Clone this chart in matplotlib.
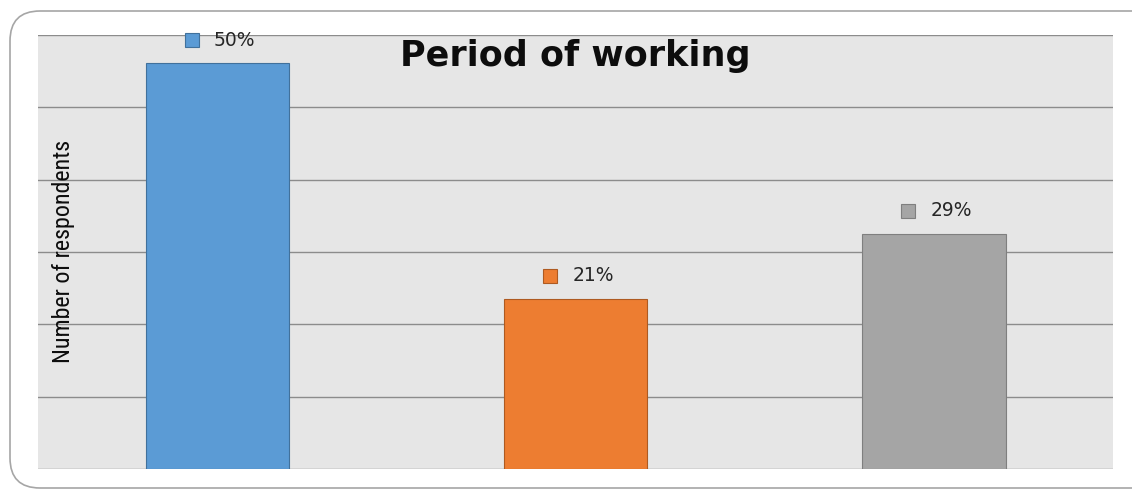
import matplotlib
matplotlib.use('Agg')

import matplotlib.pyplot as plt
from matplotlib.patches import FancyBboxPatch
from matplotlib.transforms import offset_copy
from matplotlib import font_manager
import numpy as np

# share of respondents per working period
values = [50, 21, 29]
labels = ['50%', '21%', '29%']
colors = ['#5b9bd5', '#ed7d31', '#a5a5a5']
edges = ['#41719c', '#ae5a21', '#7f7f7f']

ymax = 53.5

# pick a narrow face for the axis label if one is around
names = {f.name for f in font_manager.fontManager.ttflist}
narrow = [n for n in ['Liberation Sans Narrow', 'Arial Narrow', 'Roboto Condensed',
                      'Open Sans Condensed', 'DejaVu Sans Condensed'] if n in names]

fig = plt.figure(figsize=(11.32, 4.90), dpi=100)
ax = fig.add_axes([38 / 1132, 21 / 490, 1075 / 1132, 434 / 490])
ax.set_facecolor('#e6e6e6')

# rounded frame around the whole chart
frame = FancyBboxPatch((0.10, 0.02), 11.6, 4.77,
                       boxstyle='round,pad=0,rounding_size=0.3',
                       transform=fig.dpi_scale_trans, facecolor='none',
                       edgecolor='#a6a6a6', lw=1.2, zorder=0)
fig.patches.append(frame)

x = np.arange(len(values))
ax.bar(x, values, width=0.4, color=colors, edgecolor=edges, lw=0.8, zorder=3)

ax.set_xlim(-0.5, 2.5)
ax.set_ylim(0, ymax)
for g in np.linspace(0, ymax, 7):
    ax.axhline(g, color='#8c8c8c', lw=1, zorder=1)

mark_tr = offset_copy(ax.transData, fig, x=-25.5, y=23, units='dots')
for xi, v, lab, c, e in zip(x, values, labels, colors, edges):
    ax.plot(xi, v, marker='s', ms=10, color=c, mec=e, mew=0.8,
            transform=mark_tr, zorder=4, clip_on=False)
    ax.annotate(lab, (xi, v), xytext=(17.5 * 0.72, 23 * 0.72),
                textcoords='offset points', ha='center', va='center',
                fontsize=13.5, color='#262626', family='DejaVu Sans')

ax.text(0.5, 0.952, 'Period of working', transform=ax.transAxes,
        ha='center', va='center', fontsize=25.2, fontweight='bold',
        family='DejaVu Sans', color='#0d0d0d')

ax.set_ylabel('Number of respondents', fontsize=17.3, fontstretch='condensed',
              family=narrow + ['DejaVu Sans'], color='#0d0d0d')
ax.yaxis.set_label_coords(0.034, 0.502)

ax.set_xticks([])
ax.set_yticks([])
for s in ax.spines.values():
    s.set_visible(False)

plt.savefig('out.png', dpi=100)
plt.close(fig)
